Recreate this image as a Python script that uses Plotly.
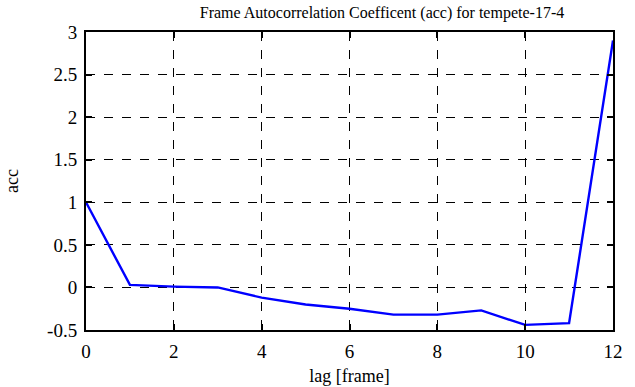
import plotly.graph_objects as go

lags = [0, 1, 2, 3, 4, 5, 6, 7, 8, 9, 10, 11, 12]
acc = [1.0, 0.03, 0.01, 0.0, -0.12, -0.2, -0.25, -0.32, -0.32, -0.27, -0.44, -0.42, 2.9]

x_ticks = [0, 2, 4, 6, 8, 10, 12]
y_ticks = [-0.5, 0, 0.5, 1, 1.5, 2, 2.5, 3]
y_tick_labels = ["-0.5", "0", "0.5", "1", "1.5", "2", "2.5", "3"]

font_family = "Liberation Serif"

fig = go.Figure()
fig.add_trace(go.Scatter(x=lags, y=acc, mode="lines",
                         line=dict(color="#0000ff", width=2.4), showlegend=False))

axis_common = dict(
    showline=True, linecolor="black", linewidth=2, mirror="ticks",
    ticks="inside", ticklen=6, tickwidth=1.5, tickcolor="black",
    showgrid=True, gridcolor="black", griddash="dash", gridwidth=1,
    zeroline=False, automargin=False, ticklabelstandoff=3,
    tickfont=dict(family=font_family, size=19, color="black"),
)

fig.update_layout(
    width=635, height=387,
    margin=dict(l=86, r=22, t=32, b=57),
    paper_bgcolor="white", plot_bgcolor="white",
    title=dict(text="Frame Autocorrelation Coefficent (acc) for tempete-17-4",
               font=dict(family=font_family, size=16, color="black"),
               x=382 / 635, xanchor="center", xref="container",
               y=1 - 12 / 387, yanchor="middle", yref="container"),
    xaxis=dict(range=[0, 12], tickvals=x_ticks, ticktext=[str(t) for t in x_ticks],
               title=dict(text="lag [frame]", font=dict(family=font_family, size=18, color="black"),
                          standoff=9),
               **axis_common),
    yaxis=dict(range=[-0.5, 3], tickvals=y_ticks, ticktext=y_tick_labels,
               title=dict(text="acc", font=dict(family=font_family, size=18, color="black"),
                          standoff=24),
               **axis_common),
)

fig.write_html("out.html", config={"displayModeBar": False},
               post_script="document.body.style.margin='0';")
